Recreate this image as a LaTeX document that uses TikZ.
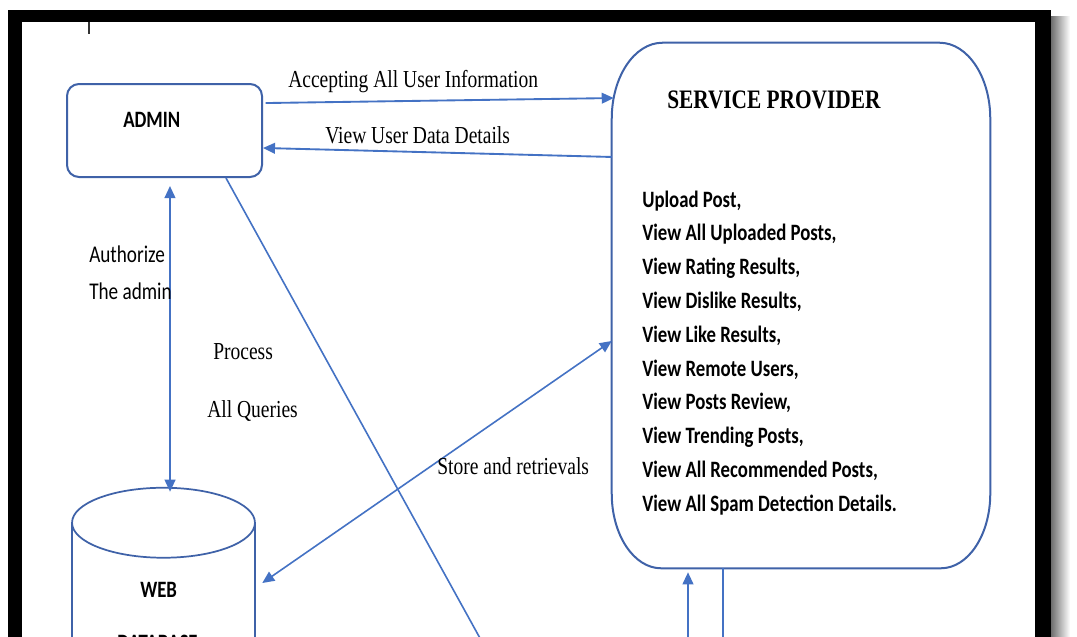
\documentclass[tikz,border=0pt]{standalone}
\usepackage{fontspec}
\setmainfont{Liberation Serif}[FakeStretch=0.8]
\newfontfamily\calfont{Carlito}[FakeStretch=0.8]
\usetikzlibrary{arrows.meta}
\definecolor{linkblue}{HTML}{4472C4}
\definecolor{boxblue}{HTML}{3F62A8}
\tikzset{
  px/.style={x=0.75pt,y=-0.75pt},
  boxline/.style={draw=boxblue,line width=1.5pt},
  flow/.style={draw=linkblue,line width=1.4pt},
  thinflow/.style={draw=linkblue,line width=1.2pt},
  tipend/.style={-{Triangle[length=9pt,width=8pt]}},
  tipboth/.style={{Triangle[length=9pt,width=8pt]}-{Triangle[length=9pt,width=8pt]}},
  serif/.style={font=\fontsize{18.3}{22}\selectfont, inner sep=0pt, anchor=base west, text=black},
  title/.style={font=\bfseries\fontsize{20}{24}\selectfont, inner sep=0pt, anchor=base west, text=black},
  sans/.style={font=\calfont\fontsize{18}{21}\selectfont, inner sep=0pt, anchor=base west, text=black},
  sansb/.style={font=\calfont\bfseries\fontsize{17.6}{21}\selectfont, inner sep=0pt, anchor=base west, text=black},
}
\begin{document}
\begin{tikzpicture}[px]
\useasboundingbox (0,0) rectangle (1077,636);
\clip (0,0) rectangle (1077,636);
% frame with shadow
\shade[left color=black!60, right color=white] (1050,16) rectangle (1070,640);
\fill[black] (8,10) rectangle (1051,640);
\fill[white] (22,22) rectangle (1035,640);
\draw[black!80, line width=0.8pt] (89,22) -- (89,34);

% ADMIN box
\node[boxline, rounded corners=9pt, minimum width=146.25pt, minimum height=69.75pt, inner sep=0pt] (admin) at (164.5,130.5) {};
\node[sansb] (admintext) at (123,127) {ADMIN};

% SERVICE PROVIDER box
\node[draw=none, minimum width=283.5pt, minimum height=393.75pt, inner sep=0pt] (sp) at (801,305.5) {};
\draw[boxline] ([xshift=38pt]sp.north west) -- ([xshift=-38pt]sp.north east)
  arc[start angle=90, end angle=0, x radius=38pt, y radius=57pt]
  -- ([yshift=56pt]sp.south east)
  arc[start angle=0, end angle=-90, x radius=37pt, y radius=56pt]
  -- ([xshift=37pt]sp.south west)
  arc[start angle=270, end angle=180, x radius=37pt, y radius=56pt]
  -- ([yshift=-57pt]sp.north west)
  arc[start angle=180, end angle=90, x radius=38pt, y radius=57pt] -- cycle;
\node[title] (sptitle) at (667,108) {SERVICE PROVIDER};
\foreach \t [count=\i from 0] in {{Upload Post,},{View All Uploaded Posts,},{View Rating Results,},{View Dislike Results,},{View Like Results,},{View Remote Users,},{View Posts Review,},{View Trending Posts,},{View All Recommended Posts,},{View All Spam Detection Details.}}
  \node[sansb] (item\i) at (642,{207+33.8*\i}) {\t};

% WEB DATABASE cylinder
\node[draw=none, minimum width=137.25pt, minimum height=114pt, inner sep=0pt] (db) at (163.5,564) {};
\draw[boxline, line width=1.3pt] ([yshift=-26.25pt]db.north) ellipse[x radius=68.6pt, y radius=26.25pt];
\draw[boxline, line width=1.3pt] ([yshift=-26.25pt]db.north west) -- (db.south west);
\draw[boxline, line width=1.3pt] ([yshift=-26.25pt]db.north east) -- (db.south east);
\node[sansb] (webtext) at (140,597) {WEB};
\node[sansb] (dbtext) at (117,650) {DATABASE};

% connectors
\draw[flow, tipend] ([xshift=2pt,yshift=20.6pt]admin.east) -- ([xshift=1.5pt,yshift=155.6pt]sp.west);
\node[serif] (lab1) at (288,87) {Accepting All User Information};
\draw[flow, tipend] ([yshift=111.4pt]sp.west) -- ([yshift=-13.1pt]admin.east);
\node[serif] (lab2) at (325,143) {View User Data Details};

\draw[flow, tipboth] ([xshift=4.1pt,yshift=-6pt]admin.south) -- ([xshift=4.9pt,yshift=-3pt]db.north);
\node[sans] (lab3) at (89,262) {Authorize};
\node[sans] (lab4) at (89,299) {The admin};
\node[serif] (lab5) at (213,359) {Process};
\node[serif] (lab6) at (207,417) {All Queries};

\coordinate (diagend) at (481,640);
\draw[thinflow] ([xshift=46.1pt]admin.south) -- (diagend);

\draw[thinflow, tipboth] ([yshift=-26.6pt]sp.west) -- ([xshift=5.25pt,yshift=-14.25pt]db.east);
\node[serif] (lab7) at (437,474) {Store and retrievals};

\coordinate (b1) at (688,640);
\coordinate (b2) at (723,640);
\draw[flow, tipend] (b1) -- ([xshift=-84.75pt,yshift=-3pt]sp.south);
\draw[flow] ([xshift=-58.5pt]sp.south) -- (b2);
\end{tikzpicture}
\end{document}
